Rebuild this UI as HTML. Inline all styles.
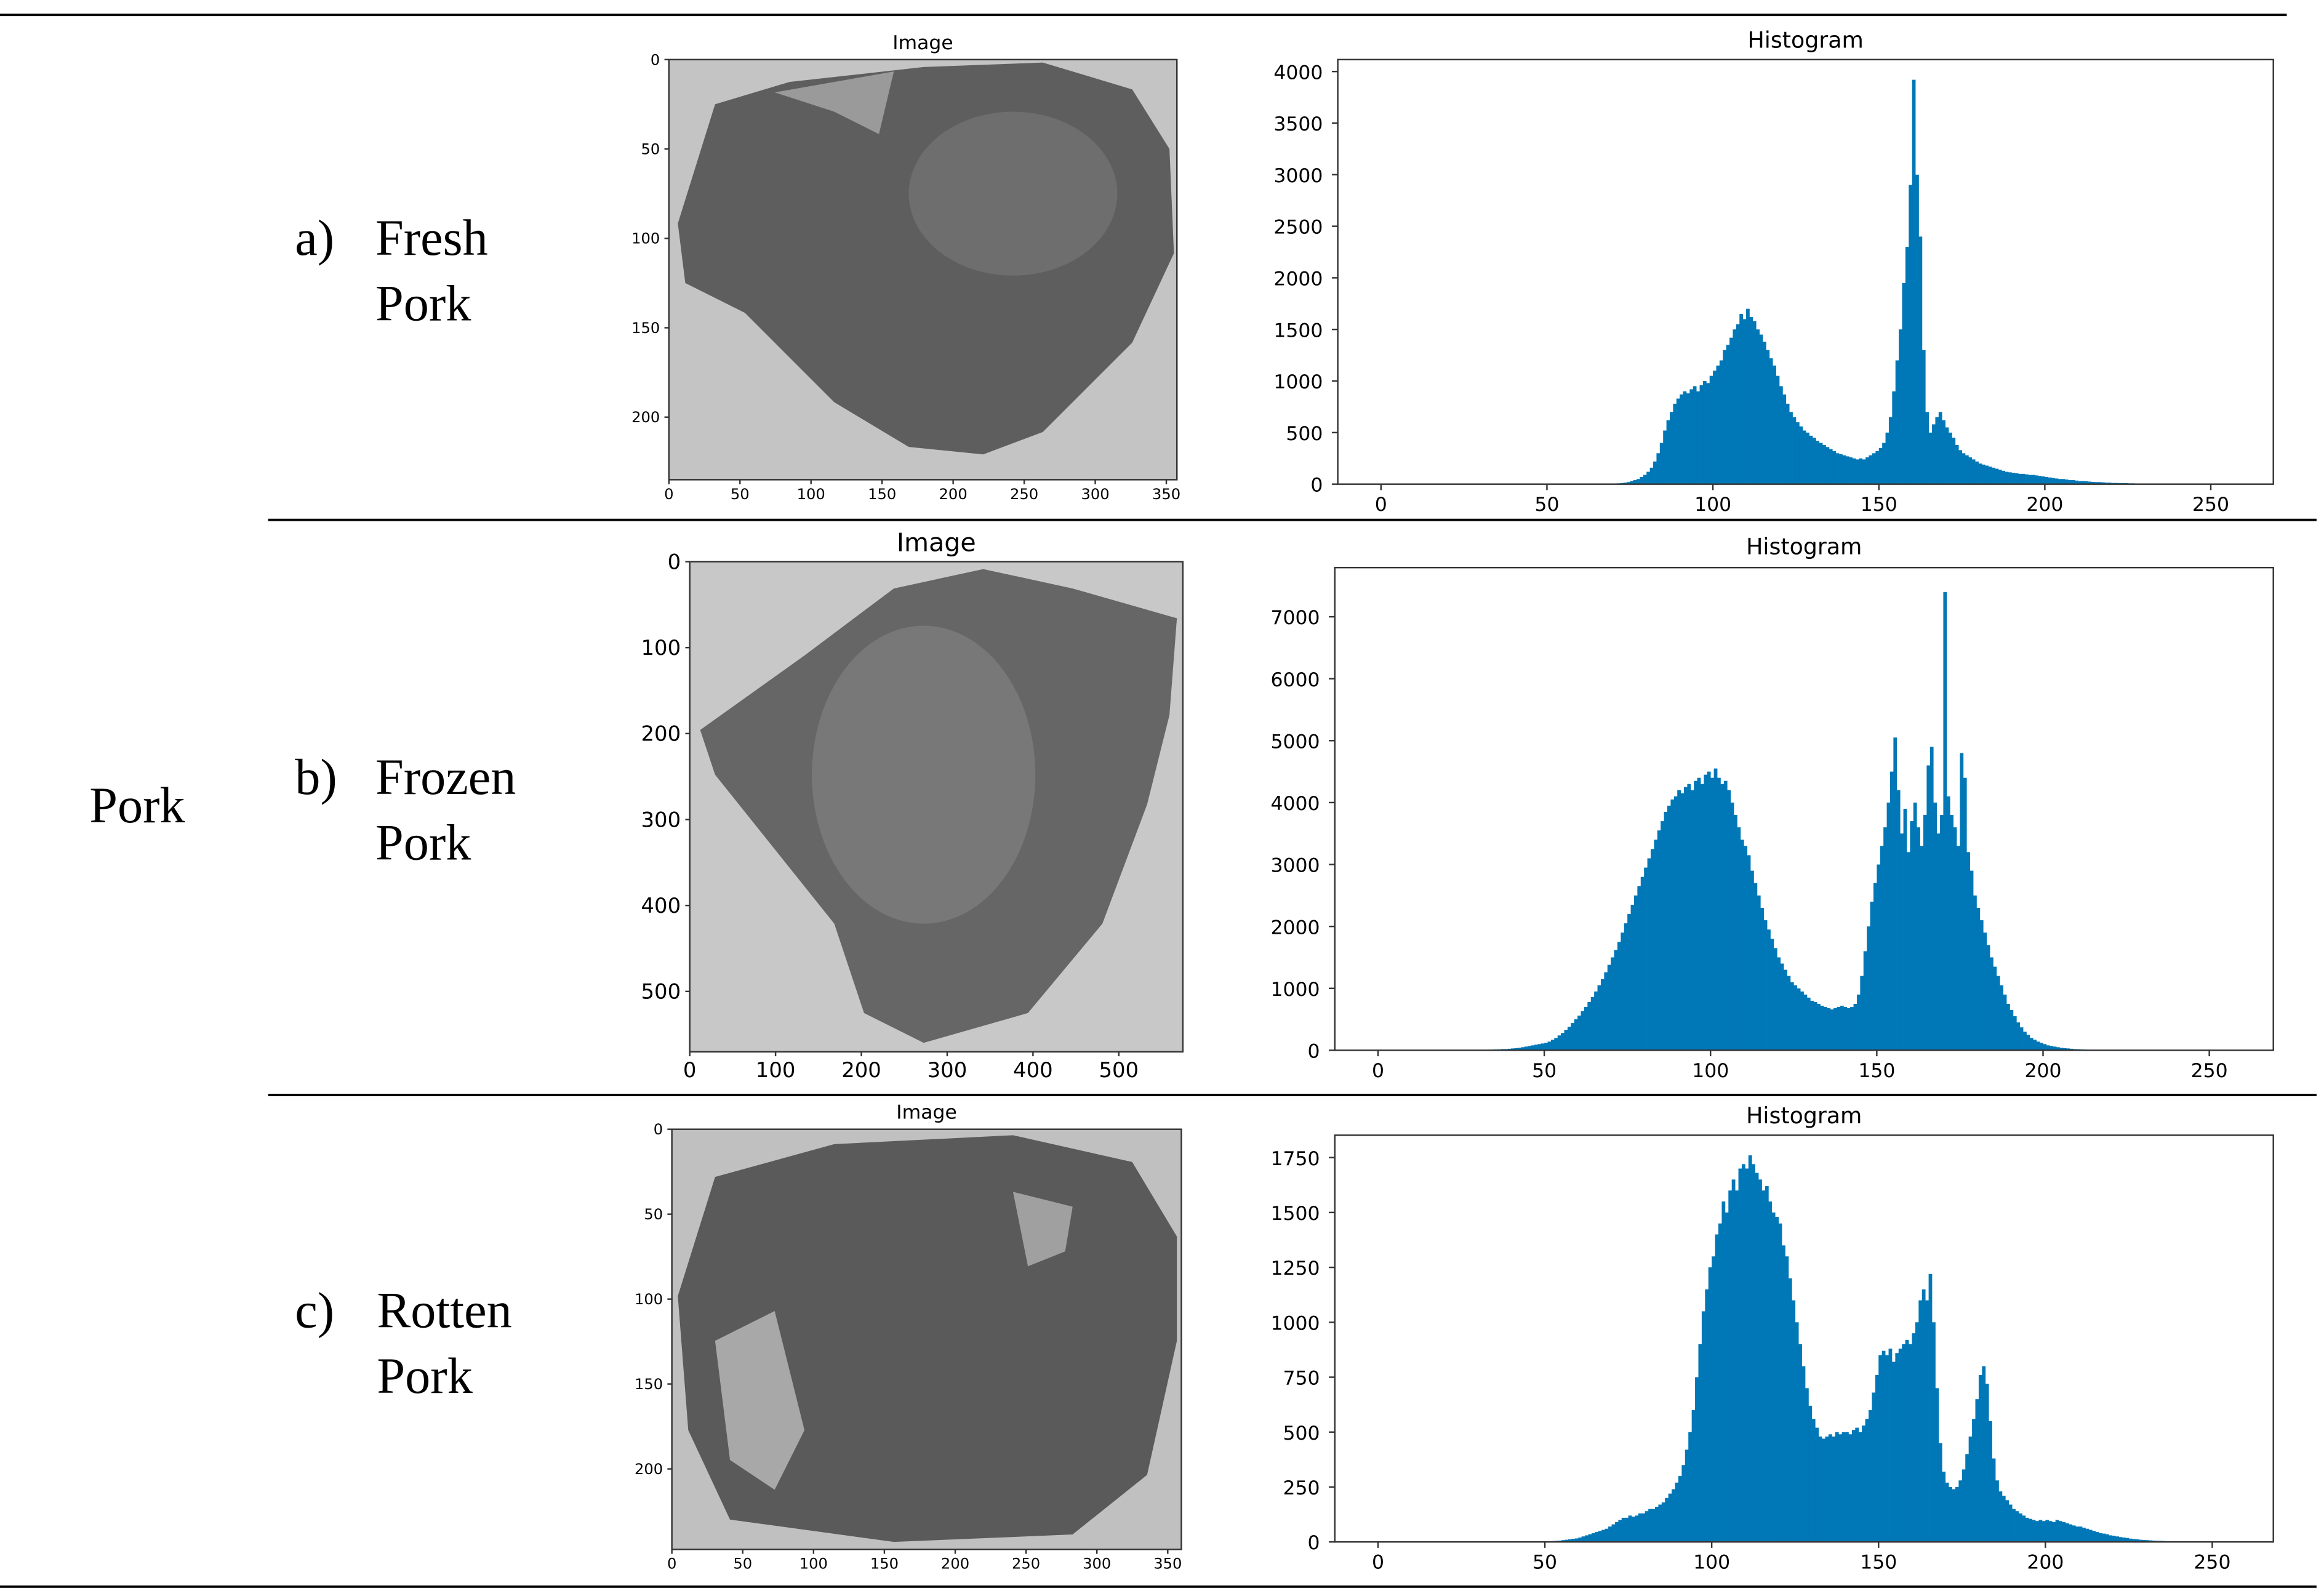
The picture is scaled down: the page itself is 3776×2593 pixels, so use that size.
<!DOCTYPE html>
<html><head><meta charset="utf-8"><style>
html,body{margin:0;padding:0;background:#fff;}
svg{display:block;}
.ser{font-family:"Liberation Serif","DejaVu Serif",serif;}
.sans{font-family:"DejaVu Sans","Liberation Sans",sans-serif;}
</style></head><body>
<svg id="fig" width="3776" height="2593" viewBox="0 0 1560 1071.3" preserveAspectRatio="none" xmlns="http://www.w3.org/2000/svg">
<rect width="1560" height="1072" fill="#fff"/>
<g stroke="#000" stroke-width="1.6">
<line x1="0" y1="10" x2="1535" y2="10"/>
<line x1="180" y1="349" x2="1555" y2="349"/>
<line x1="180" y1="735" x2="1555" y2="735"/>
<line x1="0" y1="1065" x2="1555" y2="1065"/>
</g>
<text class="ser" x="60" y="552" font-size="34">Pork</text>
<g class="ser" font-size="34"><text x="198" y="171">a)</text><text x="252" y="171">Fresh</text><text x="252" y="215">Pork</text></g>
<g class="ser" font-size="34"><text x="198" y="533">b)</text><text x="252" y="533">Frozen</text><text x="252" y="577">Pork</text></g>
<g class="ser" font-size="34"><text x="198" y="891">c)</text><text x="253" y="891">Rotten</text><text x="253" y="935">Pork</text></g>

<g>
<rect x="449" y="40" width="341" height="282" fill="#c4c4c4"/>
<polygon points="455,150 480,70 530,55 620,45 700,42 760,60 785,100 788,170 760,230 700,290 660,305 610,300 560,270 500,210 460,190" fill="#5e5e5e"/>
<polygon points="520,62 600,48 590,90 560,75" fill="#9a9a9a"/>
<ellipse cx="680" cy="130" rx="70" ry="55" fill="#6e6e6e"/>
</g>
<g>
<rect x="463" y="377" width="331" height="329" fill="#c8c8c8"/>
<polygon points="470,490 540,440 600,395 660,382 720,395 790,415 785,480 770,540 740,620 690,680 620,700 580,680 560,620 520,570 480,520" fill="#666"/>
<ellipse cx="620" cy="520" rx="75" ry="100" fill="#787878"/>
</g>
<g>
<rect x="451" y="758" width="342" height="282" fill="#c0c0c0"/>
<polygon points="455,870 480,790 560,768 680,762 760,780 790,830 790,900 770,990 720,1030 600,1035 490,1020 462,960" fill="#5a5a5a"/>
<polygon points="480,900 520,880 540,960 520,1000 490,980" fill="#a8a8a8"/>
<polygon points="680,800 720,810 715,840 690,850" fill="#a0a0a0"/>
</g>
<g id="charts"></g>
</svg>
<script>
const binsFresh=[0,0,0,0,0,0,0,0,0,0,0,0,0,0,0,0,0,0,0,0,0,0,0,0,0,0,0,0,0,0,0,0,0,0,0,0,0,0,0,0,0,0,0,0,0,0,0,0,0,0,0,0,0,0,0,0,0,0,0,0,0,0,0,0,0,0,0,0,0,0,
5,8,10,15,20,30,40,50,70,90,
120,160,220,300,400,520,620,700,780,830,
870,900,880,920,950,900,960,1000,980,1050,
1100,1150,1200,1300,1350,1420,1500,1550,1650,1600,
1700,1620,1580,1500,1450,1380,1300,1220,1150,1050,
950,870,780,700,650,600,560,520,500,470,
450,420,400,380,360,340,320,300,290,280,
270,260,250,240,250,240,260,280,300,320,
350,400,500,650,900,1200,1500,1950,2300,2900,
3920,3000,2400,1300,700,500,580,650,700,620,
550,500,450,380,330,300,280,260,240,220,
200,190,180,170,160,150,140,130,120,115,
110,105,100,100,95,90,90,85,80,75,
70,65,60,55,50,50,45,40,40,35,
30,30,28,25,22,20,20,18,15,15,
12,12,10,10,10,8,8,6,6,5,
5,4,4,3,3,2,2,2,1,1,
0,0,0,0,0,0,0,0,0,0,0,0,0,0,0,0];
const binsFrozen=[0,0,0,0,0,0,0,0,0,0,0,0,0,0,0,0,0,0,0,0,0,0,0,0,0,0,0,0,0,0,
5,5,8,10,10,15,15,20,20,25,
30,35,40,50,60,70,80,90,100,110,
120,140,170,200,240,280,330,380,440,500,
560,630,700,780,860,950,1050,1150,1260,1380,
1500,1620,1750,1900,2050,2200,2350,2500,2650,2800,
2950,3100,3250,3400,3550,3700,3850,3950,4050,4100,
4200,4150,4250,4300,4200,4350,4400,4300,4450,4500,
4400,4550,4400,4300,4350,4200,4000,3800,3600,3400,
3300,3150,2900,2700,2500,2300,2100,1950,1800,1650,
1500,1400,1300,1200,1100,1050,1000,950,900,850,
800,780,750,720,700,680,660,680,700,720,
700,680,700,750,900,1200,1600,2000,2400,2700,
3000,3300,3600,4000,4500,5050,4200,3500,3900,3200,
3700,4000,3600,3300,3800,4600,4900,4000,3500,3800,
7400,4100,3800,3600,3300,4800,4400,3200,2900,2500,
2300,2100,1900,1700,1500,1350,1200,1050,900,750,
650,550,450,370,300,250,200,170,140,120,
100,80,70,60,50,40,35,30,25,20,
18,15,12,10,8,7,6,5,4,3,
3,2,2,2,1,1,1,1,1,1,
0,0,0,0,0,0,0,0,0,0,0,0,0,0,0,0,0,0,0,0,0,0,0,0,0,0];
const binsRotten=[0,0,0,0,0,0,0,0,0,0,0,0,0,0,0,0,0,0,0,0,0,0,0,0,0,0,0,0,0,0,0,0,0,0,0,0,0,0,0,0,0,0,0,0,0,0,0,0,0,0,
2,3,4,5,6,8,10,12,14,16,
20,25,30,35,40,45,50,55,60,70,
80,90,100,110,110,120,115,120,130,130,
140,150,150,160,170,180,200,220,240,270,
300,350,420,500,600,750,900,1050,1150,1250,
1300,1400,1450,1550,1500,1600,1650,1600,1700,1720,
1700,1760,1720,1680,1650,1600,1620,1550,1500,1480,
1450,1350,1300,1200,1100,1000,900,800,700,620,
560,520,480,470,480,490,480,500,490,500,
500,490,510,520,500,530,560,600,680,760,
850,870,850,880,820,860,880,900,920,900,
950,1000,1100,1150,1100,1220,1000,700,450,320,
270,250,240,250,280,330,400,480,560,650,
760,800,720,550,380,280,230,210,190,170,
150,140,130,120,110,105,100,95,100,95,
100,95,90,100,95,90,85,80,75,70,
70,65,60,55,50,45,40,38,35,30,
28,25,22,20,18,15,13,12,10,9,
8,7,6,5,5,4,3,3,2,2,
1,1,1,0,0,0,0,0,0,0,0,0,0,0,0,0];
const histXTicks=[0,50,100,150,200,250];
const yTicksFresh=[0,500,1000,1500,2000,2500,3000,3500,4000];
const yTicksFrozen=[0,1000,2000,3000,4000,5000,6000,7000];
const yTicksRotten=[0,250,500,750,1000,1250,1500,1750];
const imgTicks1X=[0,50,100,150,200,250,300,350], imgTicks1Y=[0,50,100,150,200];
const imgTicks2X=[0,100,200,300,400,500], imgTicks2Y=[0,100,200,300,400,500];

const NS="http://www.w3.org/2000/svg";
const root=document.getElementById('charts');
function mk(tag,attrs,parent){const e=document.createElementNS(NS,tag);for(const k in attrs)e.setAttribute(k,attrs[k]);(parent||root).appendChild(e);return e;}

function hist(name,box,x0,x250,yTop,yTopVal,bins,yticks,titleY){
  const g=mk('g',{});
  
  
  const sx=v=>x0+(x250-x0)*v/250;
  const sy=v=>box.b-(box.b-yTop)*v/yTopVal;
  const t=mk('text',{x:(box.l+box.r)/2,y:titleY,'text-anchor':'middle','font-size':15,class:'sans'},g);
  t.textContent='Histogram';
  
  
  const bars=mk('g',{fill:'#0077b6'},g);
  
  
  bins.forEach((v,i)=>{ if(v<=0)return;
    const r=mk('rect',{x:sx(i),y:sy(v),width:sx(i+1)-sx(i)+0.15,height:box.b-sy(v)},bars);
    
    
  });
  mk('rect',{x:box.l,y:box.t,width:box.r-box.l,height:box.b-box.t,fill:'none',stroke:'#333','stroke-width':1},g);
  histXTicks.forEach(v=>{const x=sx(v);
    mk('line',{x1:x,y1:box.b,x2:x,y2:box.b+4,stroke:'#333'},g);
    const tt=mk('text',{x:x,y:box.b+18,'text-anchor':'middle','font-size':13,class:'sans'},g);tt.textContent=v;
    
    });
  yticks.forEach(v=>{const y=sy(v);
    mk('line',{x1:box.l-4,y1:y,x2:box.l,y2:y,stroke:'#333'},g);
    const tt=mk('text',{x:box.l-10,y:y+5,'text-anchor':'end','font-size':13,class:'sans'},g);tt.textContent=v;
    
    });
}
hist('histogram-fresh',{l:898,r:1526,t:40,b:325},927,1484,48,4000,binsFresh,yTicksFresh,32);
hist('histogram-frozen',{l:896,r:1526,t:381,b:705},925,1483,414,7000,binsFrozen,yTicksFrozen,372);
hist('histogram-rotten',{l:896,r:1526,t:762,b:1035},925,1485,777,1750,binsRotten,yTicksRotten,754);

function imgAxes(name,box,xt,yt,xs,ys,fs,title,titleFs){
  const g=mk('g',{});
  
  
  mk('rect',{x:box.l,y:box.t,width:box.r-box.l,height:box.b-box.t,fill:'none',stroke:'#333','stroke-width':1},g);
  const t=mk('text',{x:(box.l+box.r)/2,y:box.t-7,'text-anchor':'middle','font-size':titleFs,class:'sans'},g);t.textContent=title;
  xt.forEach(v=>{const x=box.l+v*xs;
    mk('line',{x1:x,y1:box.b,x2:x,y2:box.b+3,stroke:'#333'},g);
    const tt=mk('text',{x:x,y:box.b+3+fs,'text-anchor':'middle','font-size':fs,class:'sans'},g);tt.textContent=v;});
  yt.forEach(v=>{const y=box.t+v*ys;
    mk('line',{x1:box.l-3,y1:y,x2:box.l,y2:y,stroke:'#333'},g);
    const tt=mk('text',{x:box.l-6,y:y+fs*0.35,'text-anchor':'end','font-size':fs,class:'sans'},g);tt.textContent=v;});
}
imgAxes('image-axes-fresh',{l:449,r:790,t:40,b:322},imgTicks1X,imgTicks1Y,47.7/50,60/50,10,'Image',13);
imgAxes('image-axes-frozen',{l:463,r:794,t:377,b:706},imgTicks2X,imgTicks2Y,0.576,0.577,14,'Image',17);
imgAxes('image-axes-rotten',{l:451,r:793,t:758,b:1040},imgTicks1X,imgTicks1Y,0.951,57/50,10,'Image',13);
</script>
</body></html>
